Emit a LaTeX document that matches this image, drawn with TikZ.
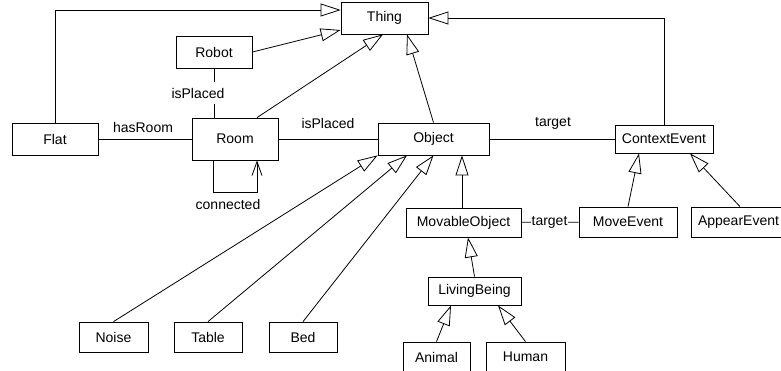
\documentclass[tikz,border=0pt]{standalone}
\usepackage{fontspec}
\setmainfont{Liberation Sans}
\usetikzlibrary{arrows.meta, positioning}
\tikzset{
  cls/.style={draw, fill=white, line width=0.8pt, inner sep=0pt, font=\fontsize{14}{16}\selectfont},
  isa/.style={line width=0.8pt, -{Triangle[open, length=20pt, width=13pt, line width=0.8pt]}},
  assoc/.style={line width=0.8pt},
  lbl/.style={font=\fontsize{14}{16}\selectfont, inner sep=1pt},
}

\begin{document}
\begin{tikzpicture}[x=1pt, y=-1pt]
        \clip (0,0) rectangle (781,370);
        % Top level classes
        \node[cls, minimum width=87pt, minimum height=32pt] (thing) at (384.5, 18) {Thing};
        \node[cls, minimum width=76pt, minimum height=32pt] (robot) at (214, 52) {Robot};
        \node[cls, minimum width=86pt, minimum height=32pt] (flat) at (55, 139) {Flat};
        \node[cls, minimum width=86pt, minimum height=42pt] (room) at (235, 139) {Room};
        \node[cls, minimum width=111pt, minimum height=32pt] (object) at (433.5, 139) {Object};
        \node[cls, minimum width=98pt, minimum height=28pt] (ctxevent) at (664, 139) {ContextEvent};
        
        % Subclasses of Object and ContextEvent
        \node[cls, minimum width=115pt, minimum height=29pt] (movable) at (463.5, 222.5) {MovableObject};
        \node[cls, minimum width=98pt, minimum height=30pt] (moveevent) at (628, 222) {MoveEvent};
        \node[cls, minimum width=94pt, minimum height=30pt] (appearevent) at (738.5, 222) {AppearEvent};
        \node[cls, minimum width=93pt, minimum height=28pt] (living) at (474.5, 291) {LivingBeing};
        \node[cls, minimum width=69pt, minimum height=30pt] (noise) at (113.5, 337) {Noise};
        \node[cls, minimum width=68pt, minimum height=30pt] (table) at (208, 337) {Table};
        \node[cls, minimum width=68pt, minimum height=30pt] (bed) at (303, 337) {Bed};
        \node[cls, minimum width=67pt, minimum height=30pt] (animal) at (436.5, 357) {Animal};
        \node[cls, minimum width=79pt, minimum height=30pt] (human) at (525.5, 357) {Human};
        
        % Generalisations to Thing
        \draw[isa] (flat.north) |- ([yshift=8pt]thing.west);
        \draw[isa] (robot.east) -- ([yshift=-12pt]thing.west);
        \draw[isa] ([xshift=22pt]room.north) -- ([xshift=-1.5pt]thing.south);
        \draw[isa] (object.north) -- ([xshift=22.5pt]thing.south);
        \draw[isa] (ctxevent.north) |- (thing.east);
        
        % Associations
        \draw[assoc] (robot.south) -- (robot.south |- room.north)
            node[lbl, midway, fill=white, inner ysep=6pt, xshift=-16pt] (placedrobot) {isPlaced};
        \draw[assoc] (flat) -- (room);
        \node[lbl] (hasroom) at (143, 127) {hasRoom};
        \draw[assoc] (room) -- (object);
        \node[lbl] (placedroom) at (328, 123) {isPlaced};
        \draw[assoc] (object) -- (ctxevent);
        \node[lbl] (targetobj) at (553, 123) {target};
        \draw[assoc, -{Straight Barb[length=14pt, width=10pt, line width=0.8pt]}]
            ([xshift=-22pt]room.south) -- ++(0, 32) -| ([xshift=22pt]room.south);
        \node[lbl] (connected) at (228, 204) {connected};
        \draw[assoc] (movable) -- (moveevent)
            node[lbl, midway, fill=white, xshift=-0.5pt] (targetmov) {target};
        
        % Generalisations below
        \draw[isa] (noise.north) -- (object.south west);
        \draw[isa] (table.north) -- ([xshift=-26.5pt]object.south);
        \draw[isa] (bed.north) -- (object.south);
        \draw[isa] ([xshift=-1.5pt]movable.north) -- ([xshift=-1.5pt]movable.north |- object.south);
        \draw[isa] (living.north) -- ([xshift=4.5pt]movable.south);
        \draw[isa] (animal.north) -- ([xshift=-23.5pt]living.south);
        \draw[isa] (human.north) -- ([xshift=23.5pt]living.south);
        \draw[isa] (moveevent.north) -- ([xshift=-25pt]ctxevent.south);
        \draw[isa] ([xshift=1.5pt]appearevent.north) -- ([xshift=26pt]ctxevent.south);
        
    \end{tikzpicture}
\end{document}
